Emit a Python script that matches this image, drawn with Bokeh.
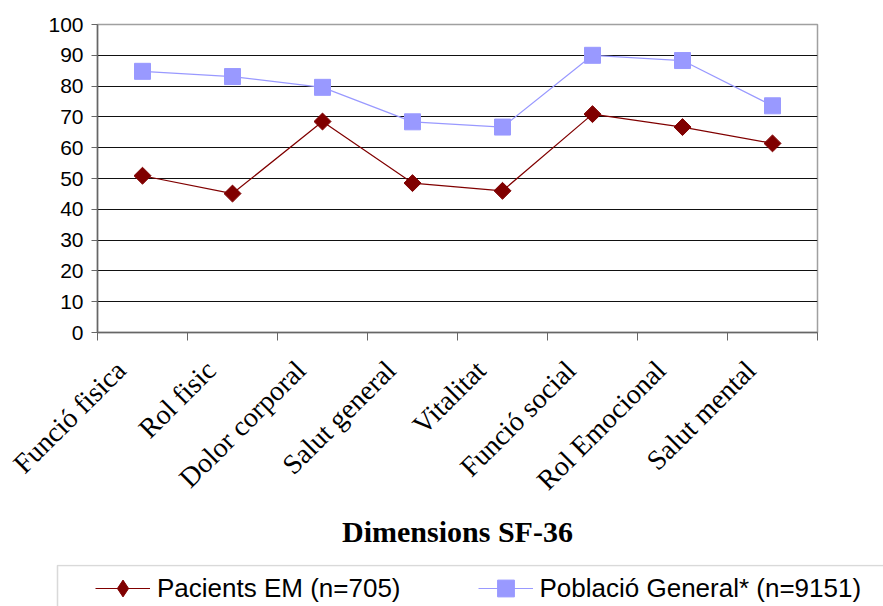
import numpy as np
from bokeh.plotting import figure
from bokeh.layouts import column
from bokeh.models import Range1d, FixedTicker, Legend, LegendItem, BoxAnnotation, ColumnDataSource
from bokeh.embed import file_html
from bokeh.resources import INLINE

categories = ["Funció fisica", "Rol fisic", "Dolor corporal", "Salut general",
              "Vitalitat", "Funció social", "Rol Emocional", "Salut mental"]
pacients_em = [50.9, 45.1, 68.5, 48.5, 46.0, 70.9, 66.7, 61.4]
poblacio_general = [84.8, 83.1, 79.6, 68.4, 66.7, 90.0, 88.3, 73.6]
y_ticks = list(range(0, 101, 10))
series_names = ["Pacients EM (n=705)", "Població General* (n=9151)"]
x_title = "Dimensions SF-36"

PAC_COLOR = "#800000"
POB_COLOR = "#9999FF"

n = len(categories)
xs = [i + 0.5 for i in range(n)]
src = ColumnDataSource(dict(x=xs, pac=pacients_em, pob=poblacio_general))

W = 883
H_MAIN = 564
H_LEG = 42

p = figure(width=W, height=H_MAIN, output_backend="svg", toolbar_location=None,
           x_range=Range1d(0, n), y_range=Range1d(0, 100),
           min_border_left=97, min_border_right=66, min_border_top=24,
           min_border_bottom=232)
p.background_fill_color = "white"
p.border_fill_color = "white"
p.outline_line_color = "#a0a0a0"
p.outline_line_width = 1.5

# y axis
p.yaxis.ticker = FixedTicker(ticks=y_ticks)
p.yaxis.major_label_text_font = "Liberation Sans"
p.yaxis.major_label_text_font_size = "21px"
p.yaxis.major_label_text_color = "black"
p.yaxis.axis_line_color = "#666666"
p.yaxis.axis_line_width = 1.5
p.yaxis.major_tick_line_color = "#666666"
p.yaxis.major_tick_out = 6
p.yaxis.major_tick_in = 0
p.yaxis.minor_tick_line_color = None
p.yaxis.major_label_standoff = 8

p.ygrid.ticker = FixedTicker(ticks=y_ticks)
p.ygrid.grid_line_color = "#111111"
p.ygrid.grid_line_width = 1
p.xgrid.grid_line_color = None

# x axis: labels near category centres, ticks at category boundaries
label_shift = 0.24
p.xaxis.ticker = FixedTicker(ticks=[x - label_shift for x in xs],
                             minor_ticks=list(range(n + 1)))
p.xaxis.major_label_overrides = {x - label_shift: c for x, c in zip(xs, categories)}
p.xaxis.major_label_orientation = np.pi / 4
p.xaxis.major_label_text_font = "Liberation Serif"
p.xaxis.major_label_text_font_size = "28px"
p.xaxis.major_label_text_color = "black"
p.xaxis.major_label_standoff = 25
p.xaxis.major_tick_line_color = None
p.xaxis.major_tick_out = 0
p.xaxis.major_tick_in = 0
p.xaxis.minor_tick_line_color = "#666666"
p.xaxis.minor_tick_out = 8
p.xaxis.minor_tick_in = 0
p.xaxis.axis_line_color = "#666666"
p.xaxis.axis_line_width = 1.5
p.xaxis.axis_label = x_title
p.xaxis.axis_label_text_font = "Liberation Serif"
p.xaxis.axis_label_text_font_style = "bold"
p.xaxis.axis_label_text_font_size = "30px"
p.xaxis.axis_label_text_color = "black"
p.xaxis.axis_label_standoff = 5

p.line("x", "pac", source=src, line_color=PAC_COLOR, line_width=1.2)
p.scatter("x", "pac", source=src, marker="square", angle=np.pi / 4, size=12,
          fill_color=PAC_COLOR, line_color=PAC_COLOR)
p.line("x", "pob", source=src, line_color=POB_COLOR, line_width=1.2)
p.scatter("x", "pob", source=src, marker="square", size=16,
          fill_color=POB_COLOR, line_color=POB_COLOR)

# legend strip (separate figure so the box can run off the page edges)
q = figure(width=W, height=H_LEG, output_backend="svg", toolbar_location=None,
           x_range=Range1d(0, n), y_range=Range1d(1000, 1001),
           x_axis_location=None, y_axis_location=None,
           min_border_left=0, min_border_right=0, min_border_top=0, min_border_bottom=0)
q.outline_line_color = None
q.background_fill_color = "white"
q.border_fill_color = "white"
q.xgrid.grid_line_color = None
q.ygrid.grid_line_color = None

for fig in (p, q):
    try:
        fig.frame_align = False
    except Exception:
        pass

ql1 = q.line("x", "pac", source=src, line_color=PAC_COLOR, line_width=1.2)
qm1 = q.scatter("x", "pac", source=src, marker="diamond", size=16,
                fill_color=PAC_COLOR, line_color=PAC_COLOR)
ql2 = q.line("x", "pob", source=src, line_color=POB_COLOR, line_width=1.2)
qm2 = q.scatter("x", "pob", source=src, marker="square", size=16,
                fill_color=POB_COLOR, line_color=POB_COLOR)

pad = 2
gh = 42
legend = Legend(items=[LegendItem(label=series_names[0], renderers=[ql1, qm1]),
                       LegendItem(label=series_names[1], renderers=[ql2, qm2])],
                orientation="horizontal", location=(97 - pad, H_LEG - gh - 2 * pad + 1),
                glyph_width=55, glyph_height=gh, padding=pad, spacing=77,
                label_standoff=7, label_text_font="Liberation Sans",
                label_text_font_size="26px", label_text_color="black",
                border_line_color=None, background_fill_alpha=0)
q.add_layout(legend)

box = BoxAnnotation(left=57, right=2000, top=H_LEG - 1, bottom=-200,
                    left_units="screen", right_units="screen",
                    top_units="screen", bottom_units="screen",
                    fill_alpha=0, line_color="#808080", line_width=1.5)
q.add_layout(box)

layout = column(p, q, spacing=0)
open("out.html", "w").write(file_html(layout, INLINE))
